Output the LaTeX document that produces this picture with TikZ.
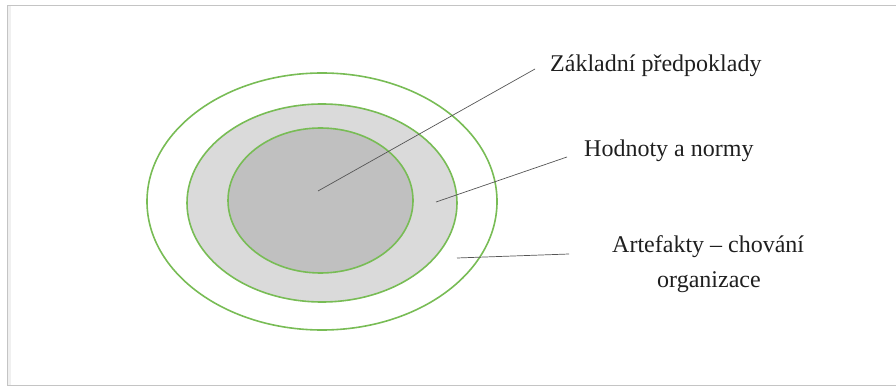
\documentclass[tikz,border=0pt]{standalone}
\usepackage{fontspec}
\setmainfont{Liberation Serif}
\newfontfamily\lblfont{Liberation Serif}
\usetikzlibrary{positioning,calc,shapes.geometric}
\definecolor{cG}{HTML}{78BC55}
\definecolor{cL}{HTML}{DADADA}
\definecolor{cD}{HTML}{C0C0C0}
\definecolor{cK}{HTML}{555555}
\definecolor{cF}{HTML}{C4C4C4}
\begin{document}
\begin{tikzpicture}[x=1pt,y=-1pt,
  ring/.style={draw=cG,line width=1.6pt,ellipse,inner sep=0pt},
  lbl/.style={anchor=base west,inner sep=0pt,font=\lblfont\fontsize{24}{28}\selectfont,text=black!88},
  ln/.style={cK,line width=.7pt}]
\useasboundingbox (0,0) rectangle (896,387);
% page frame
\draw[cF,line width=1pt] (896,6) -- (7.5,6) -- (7.5,385.5) -- (896,385.5);
\fill[black!6] (8,6.5) rectangle (11,385);
% rings
\node[ring,minimum width=350,minimum height=257] (art) at (322,201.5) {};
\node[ring,fill=cL,minimum width=270,minimum height=198] (val) at (322,203) {};
\node[ring,fill=cD,minimum width=185,minimum height=145] (core) at (320.5,200.5) {};
% labels
\node[lbl] (t1) at (550,72) {Základní předpoklady};
\node[lbl] (t2) at (584,157) {Hodnoty a normy};
\node[lbl] (t3) at (612,252) {Artefakty – chování};
\node[lbl] (t4) at (657,287) {organizace};
\coordinate (p1) at (318,191);
\coordinate (p2) at (436,202);
\coordinate (p3) at (457,258);
\draw[ln] (p1) -- ([xshift=-15pt,yshift=3pt]t1.base west);
\draw[ln] (p2) -- ([xshift=-17pt]t2.base west);
\draw[ln] (p3) -- ([xshift=-43pt,yshift=-2pt]t3.base west);
\end{tikzpicture}
\end{document}
